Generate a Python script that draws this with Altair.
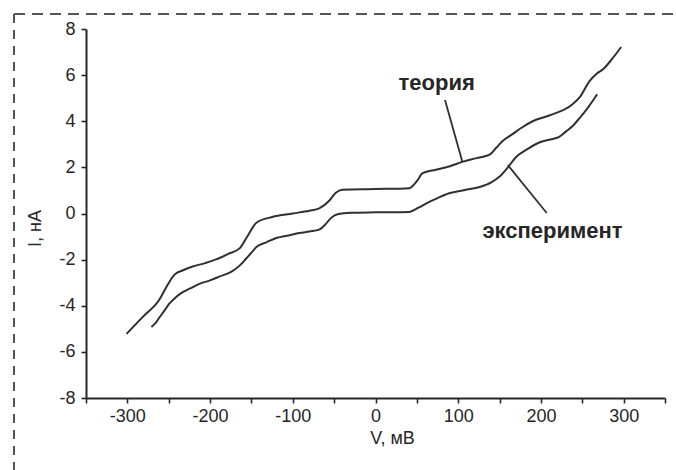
import altair as alt
import pandas as pd

# Calculated current-voltage curve ("теория"): V in mV, I in nA
theory_v = [-301, -281, -261, -253, -243, -232, -221, -206, -192, -178, -164, -155,
            -144, -125, -100, -80, -68, -56, -48, -40, 0, 41, 50, 57, 73, 90, 105,
            122, 138, 146, 154, 166, 178, 190, 210, 237, 247, 259, 267, 275, 286, 297]
theory_i = [-5.22, -4.47, -3.72, -3.2, -2.65, -2.45, -2.3, -2.15, -1.98, -1.75, -1.5, -1.0,
            -0.4, -0.15, 0.0, 0.12, 0.22, 0.55, 0.9, 1.03, 1.06, 1.1, 1.4, 1.75, 1.9, 2.05, 2.24,
            2.4, 2.55, 2.85, 3.15, 3.45, 3.75, 4.0, 4.25, 4.7, 5.05, 5.75, 6.05, 6.25, 6.7, 7.22]

# Measured current-voltage curve ("эксперимент")
exp_v = [-271, -266, -261, -255, -249, -242, -235, -224, -213, -200, -189, -173, -164,
         -156, -150, -144, -132, -120, -105, -92, -80, -68, -60, -54, -45, -30, 0, 41,
         52, 62, 75, 89, 108, 126, 140, 150, 160, 170, 184, 198, 210, 222, 230, 238,
         247, 256, 268]
exp_i = [-4.92, -4.75, -4.5, -4.2, -3.9, -3.65, -3.45, -3.25, -3.05, -2.9, -2.74, -2.5, -2.25,
         -1.94, -1.7, -1.45, -1.25, -1.06, -0.95, -0.85, -0.78, -0.7, -0.45, -0.2, -0.02, 0.03, 0.05, 0.07,
         0.25, 0.45, 0.67, 0.88, 1.02, 1.15, 1.35, 1.6, 2.0, 2.45, 2.8, 3.08, 3.2, 3.32, 3.55, 3.78,
         4.15, 4.55, 5.17]

# Curve labels and their leader lines (data coordinates)
label_text = ["теория", "эксперимент"]
label_v = [74, 214]
label_i = [5.66, -0.76]
leader_v1 = [84, 160]
leader_i1 = [4.92, 2.1]
leader_v2 = [105, 207]
leader_i2 = [2.24, 0.02]

x_ticks = list(range(-350, 351, 50))
y_ticks = list(range(-8, 9, 1))

FONT = "Liberation Sans"
INK = "#262626"

curves = pd.concat([
    pd.DataFrame({"V": theory_v, "I": theory_i, "curve": "theory"}),
    pd.DataFrame({"V": exp_v, "I": exp_i, "curve": "experiment"}),
])
labels = pd.DataFrame({"text": label_text, "V": label_v, "I": label_i})
leaders = pd.DataFrame({"V": leader_v1, "I": leader_i1, "V2": leader_v2, "I2": leader_i2})

x_scale = alt.Scale(domain=[-350, 350], nice=False, zero=False)
y_scale = alt.Scale(domain=[-8, 8], nice=False, zero=False)

# Plain hyphen-minus in tick labels, only every other tick labelled
x_axis = alt.Axis(
    values=x_ticks, labelExpr="datum.value % 100 === 0 ? '' + datum.value : ''",
    title="V, мВ", titleX=306, titleY=40, titleAlign="center", titleBaseline="middle",
    titleFont=FONT, titleFontSize=18, titleFontWeight="normal", titleColor=INK,
    labelFont=FONT, labelFontSize=18, labelColor=INK, labelPadding=4,
    tickSize=5, tickWidth=1.6, tickColor=INK, domainColor=INK, domainWidth=2,
    grid=False, labelFlush=False, labelOverlap=False,
)
y_axis = alt.Axis(
    values=y_ticks, labelExpr="datum.value % 2 === 0 ? '' + datum.value : ''",
    title="I, нА", titleX=-51, titleY=199, titleAlign="center", titleBaseline="middle",
    titleAngle=-90, titleFont=FONT, titleFontSize=18, titleFontWeight="normal", titleColor=INK,
    labelFont=FONT, labelFontSize=18, labelColor=INK, labelPadding=6,
    tickSize=5, tickWidth=1.6, tickColor=INK, domainColor=INK, domainWidth=2,
    grid=False, labelFlush=False, labelOverlap=False,
)

lines = alt.Chart(curves).mark_line(color="#303030", strokeWidth=2, interpolate="monotone").encode(
    x=alt.X("V:Q", scale=x_scale, axis=x_axis),
    y=alt.Y("I:Q", scale=y_scale, axis=y_axis),
    detail="curve:N",
)

leader_lines = alt.Chart(leaders).mark_rule(color="#303030", strokeWidth=1.8).encode(
    x=alt.X("V:Q", scale=x_scale), y=alt.Y("I:Q", scale=y_scale),
    x2="V2:Q", y2="I2:Q",
)

label_marks = alt.Chart(labels).mark_text(
    font=FONT, fontSize=22, fontWeight="bold", color="#262626",
    align="center", baseline="middle",
).encode(
    x=alt.X("V:Q", scale=x_scale), y=alt.Y("I:Q", scale=y_scale), text="text:N",
)

# Dashed frame along the top and left of the page
frame_left = alt.Chart(pd.DataFrame({"k": [0]})).mark_rule(
    color="#555555", strokeWidth=2, strokeDash=[9, 7]
).encode(x=alt.value(-72), y=alt.value(-15), y2=alt.value(441))
frame_top = alt.Chart(pd.DataFrame({"k": [0]})).mark_rule(
    color="#555555", strokeWidth=2, strokeDash=[11, 7]
).encode(x=alt.value(-72), x2=alt.value(590), y=alt.value(-15))

chart = alt.layer(frame_left, frame_top, lines, leader_lines, label_marks).properties(
    width=579, height=369,
    autosize=alt.AutoSizeParams(type="none"),
    padding={"left": 86, "top": 29, "right": 11, "bottom": 72},
    background="white",
).configure_view(stroke=None)

chart.save("out.html", embed_options={"renderer": "svg", "actions": False})
